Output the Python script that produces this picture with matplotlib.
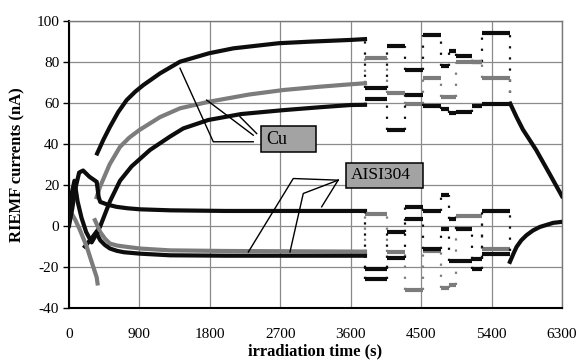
import numpy as np
import matplotlib.pyplot as plt
from matplotlib.patches import Rectangle

plt.rcParams['font.family'] = ['Liberation Serif', 'DejaVu Serif']
plt.rcParams['axes.unicode_minus'] = False

# ---- data (time in s, current in nA) ----
# Cu curves, smooth part
cu_top_t = [360, 440, 524, 630, 737, 850, 950, 1163, 1419, 1789, 2100, 2680, 3100, 3600, 3783]
cu_top_v = [35.3, 42, 48.3, 55.5, 61.3, 65.5, 68.6, 74.3, 80, 84.1, 86.5, 89, 89.8, 90.6, 91]
cu_gray_t = [354, 396, 520, 652, 770, 899, 1163, 1419, 1789, 2300, 2739, 3200, 3600, 3783]
cu_gray_v = [14, 19, 30, 38.5, 43, 46.7, 53, 57.3, 60.5, 64, 66.2, 67.8, 69, 69.5]
cu_low_t = [204, 300, 396, 524, 652, 800, 1035, 1290, 1461, 1780, 2200, 2739, 3200, 3600, 3783]
cu_low_v = [-10, -5.5, -0.5, 12, 22, 29, 37, 43.5, 47.5, 51.6, 54.5, 56.4, 57.8, 58.9, 59]

# AISI304 curves, smooth part
ai_top_t = [0, 40, 80, 130, 180, 260, 354, 380, 400, 500, 609, 750, 907, 1300, 2000, 3000, 3783]
ai_top_v = [0, 8, 18, 26, 27, 24, 21.5, 14, 11.7, 10.3, 9.3, 8.6, 8.1, 7.6, 7.3, 7.3, 7.3]
ai_gray_pre_t = [0, 35, 80, 140, 226, 311, 354, 365]
ai_gray_pre_v = [5, 6, 3, -2, -10, -20, -25, -28]
ai_gray_t = [332, 400, 460, 524, 610, 700, 907, 1290, 2000, 3783]
ai_gray_v = [2.8, -3, -6.2, -8.6, -9.5, -10, -11, -11.9, -12.2, -12.5]
ai_low_pre_t = [0, 30, 70, 110, 160, 220, 290, 354]
ai_low_pre_v = [5, 15, 22, 12, 4, -3, -8, -3.7]
ai_low_t = [354, 400, 460, 524, 610, 700, 907, 1290, 2000, 3783]
ai_low_v = [-3.7, -7, -9.3, -11, -12.1, -12.8, -13.5, -14.3, -14.5, -14.5]

# step region 3783-5635 s
step_edges = [3783, 4060, 4300, 4520, 4750, 4850, 4950, 5150, 5275, 5635]
cu_top_steps = [67, 87.5, 76, 93, 78, 85, 83, 80, 94]
cu_gray_steps = [81.6, 64.6, 59.5, 72, 63, 63, 80, 80, 72.2]
cu_low_steps = [62, 46.5, 64, 58.5, 57, 55, 55.5, 58.5, 59.5]
ai_top_steps = [-21, -3, 9, 7.3, 15, 3.6, -1.5, -16, 7.3]
ai_gray_steps = [6, -12.7, -31.4, -12, -30, -29, 5, 5, -11]
ai_low_steps = [-26, -15.8, 3.6, -11, -1.3, -17, -17, -21, -13.5]

# after the beam is off
cu_decay_t = [5640, 5720, 5800, 5970, 6140, 6300]
cu_decay_v = [59.5, 53, 47, 37, 25.5, 14.5]
ai_rise_t = [5635, 5680, 5720, 5780, 5847, 5930, 6017, 6188, 6300]
ai_rise_v = [-17.5, -13.5, -10.2, -7, -4.5, -2.2, -0.5, 1.5, 2]

black = '#0d0d0d'
gray = '#7c7c7c'

fig, ax = plt.subplots(figsize=(5.86, 3.62), dpi=100)
fig.subplots_adjust(left=0.1177, right=0.959, top=0.943, bottom=0.149)


def curve(t, v, col):
    ax.plot(t, v, color=col, lw=3, zorder=3, solid_joinstyle='round')


def steps(levels, col, first, last):
    ax.hlines(levels, step_edges[:-1], step_edges[1:], colors=col, lw=3, zorder=3)
    before = [first] + levels
    after = levels + [last]
    ax.vlines(step_edges, np.minimum(before, after), np.maximum(before, after),
              colors=col, lw=1.6, linestyles=(0, (1, 4)), zorder=3)


curve(cu_top_t, cu_top_v, black)
curve(cu_gray_t, cu_gray_v, gray)
curve(cu_low_t, cu_low_v, black)
curve(ai_gray_pre_t, ai_gray_pre_v, gray)
curve(ai_gray_t, ai_gray_v, gray)
curve(ai_low_pre_t, ai_low_pre_v, black)
curve(ai_low_t, ai_low_v, black)
curve(ai_top_t, ai_top_v, black)

steps(cu_top_steps, black, cu_top_v[-1], cu_decay_v[0])
steps(cu_gray_steps, gray, cu_gray_v[-1], cu_decay_v[0])
steps(cu_low_steps, black, cu_low_v[-1], cu_decay_v[0])
steps(ai_gray_steps, gray, ai_gray_v[-1], ai_rise_v[0])
steps(ai_top_steps, black, ai_top_v[-1], ai_rise_v[0])
steps(ai_low_steps, black, ai_low_v[-1], ai_rise_v[0])

curve(cu_decay_t, cu_decay_v, black)
curve(ai_rise_t, ai_rise_v, black)

# callouts
ax.add_patch(Rectangle((2455, 36), 702, 12.6, facecolor='#a3a3a3', edgecolor='black', lw=1.1, zorder=5))
ax.text(2520, 42.3, 'Cu', fontsize=13, va='center', ha='left', zorder=6)
ax.plot([1419, 1844, 2355], [76.8, 41, 41], color='black', lw=1, zorder=4)
ax.plot([1760, 2355], [61.3, 44.2], color='black', lw=1, zorder=4)
ax.plot([2185, 2399], [53.2, 45], color='black', lw=1, zorder=4)

ax.add_patch(Rectangle((3540, 18.7), 988, 12, facecolor='#a3a3a3', edgecolor='black', lw=1.1, zorder=5))
ax.text(3600, 24.7, 'AISI304', fontsize=12.5, va='center', ha='left', zorder=6)
ax.plot([3440, 2866, 2292], [22.3, 23.1, -12.7], color='black', lw=1, zorder=4)
ax.plot([3440, 2994, 2824], [22.3, 15.8, -12.7], color='black', lw=1, zorder=4)
ax.plot([3440, 3229], [22.3, 9.3], color='black', lw=1, zorder=4)

ax.set_xlim(0, 6300)
ax.set_ylim(-40, 100)
ax.set_xticks(np.arange(0, 6301, 900))
ax.set_yticks(np.arange(-40, 101, 20))
ax.grid(True, color='#8a8a8a', lw=0.9)
ax.set_axisbelow(True)
ax.tick_params(axis='x', length=0, pad=14, labelsize=11)
ax.tick_params(axis='y', length=4, width=1, pad=3, labelsize=11)
for s in ['left', 'bottom']:
    ax.spines[s].set_color('black')
    ax.spines[s].set_linewidth(1.5)
for s in ['top', 'right']:
    ax.spines[s].set_color('#777777')
    ax.spines[s].set_linewidth(1)

ax.set_xlabel('irradiation time (s)', fontsize=12, fontweight='bold', labelpad=2)
ax.set_ylabel('RIEMF currents (nA)', fontsize=12, fontweight='bold', labelpad=8)

fig.savefig('out.png', dpi=100)
